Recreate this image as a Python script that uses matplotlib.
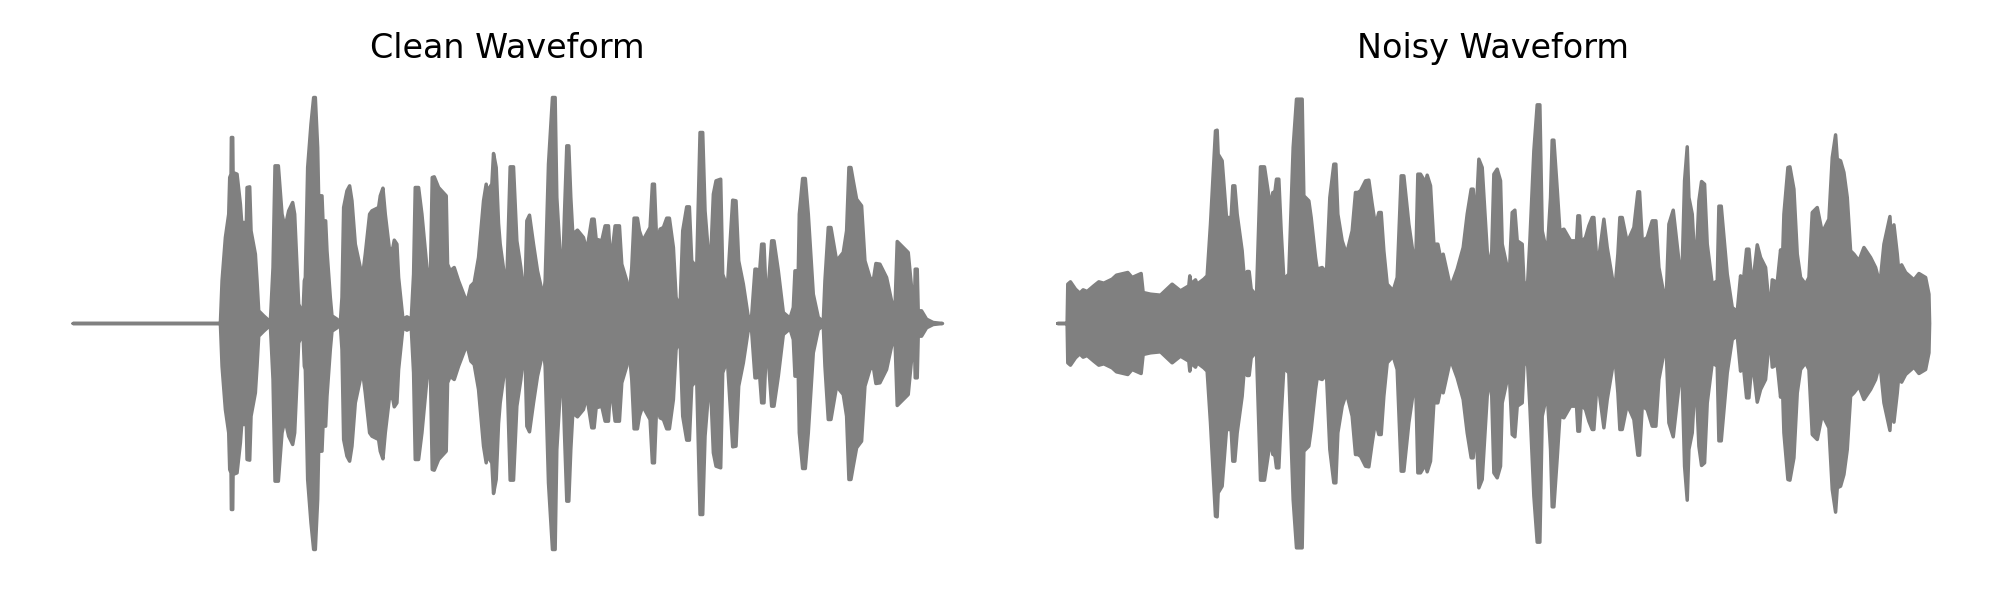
import matplotlib
matplotlib.use("Agg")
import matplotlib.pyplot as plt

# Peak envelope of each recording.
# time is in frames, amplitude in the same arbitrary counts for both panels.
clean_time = [
    68, 510, 515, 525, 535, 538, 542, 543, 547, 548, 560, 570, 574, 588, 590, 598, 602, 615, 620, 625, 640,
    660, 668, 674, 684, 695, 704, 715, 727, 733, 745, 758, 762, 765, 772, 782, 790, 795, 802, 806, 808,
    815, 818, 826, 830, 840, 845, 860, 870, 875, 880, 890, 898, 905, 915, 930, 935, 945, 958, 965, 985,
    990, 998, 1005, 1018, 1028, 1032, 1040, 1045, 1058, 1070, 1083, 1090, 1095, 1105, 1115, 1130, 1140, 1146, 1152, 1165,
    1188, 1192, 1200, 1212, 1225, 1250, 1262, 1272, 1285, 1300, 1308, 1315, 1318, 1325, 1330, 1338, 1345,
    1350, 1365, 1370, 1380, 1390, 1400, 1412, 1418, 1425, 1430, 1438, 1450, 1462, 1480, 1485, 1495, 1507, 1515, 1520,
    1530, 1538, 1543, 1550, 1556, 1562, 1568, 1582, 1600, 1610, 1625, 1632, 1638, 1655, 1665, 1675, 1682, 1695, 1708, 1715,
    1730, 1736, 1745, 1752, 1762, 1768, 1778, 1800, 1807, 1813, 1820, 1830, 1840, 1850, 1858, 1870, 1878, 1890, 1898, 1910,
    1918, 1925, 1940, 1950, 1958, 1965, 1980, 1990, 1998, 2012, 2018, 2032, 2048, 2058, 2066, 2080, 2095, 2105, 2115, 2120,
    2125, 2135, 2142, 2147, 2155, 2165, 2172, 2185, 2200, 2220, 2230, 2235, 2240, 2243, 2248, 2258, 2266, 2275, 2290, 2305,
    2320, 2325, 2335, 2343, 2360, 2380, 2390, 2397, 2403, 2410, 2420, 2435, 2445, 2460, 2470, 2478, 2490, 2510, 2525, 2535,
    2542, 2550, 2575, 2585, 2593, 2596, 2602, 2605, 2615, 2630, 2650, 2678,
]
clean_amp = [
    0, 0, 128, 258, 328, 438, 448, 558, 558, 453, 448, 358, 303, 303, 408, 410, 278, 208, 128, 38, 23,
    5, 168, 473, 473, 328, 288, 338, 363, 328, 58, 28, 128, 138, 468, 598, 678, 678, 528, 328, 383,
    383, 308, 308, 218, 78, 23, 13, 3, 78, 348, 398, 413, 368, 238, 168, 128, 208, 328, 338, 348,
    383, 406, 328, 218, 228, 250, 238, 138, 13, 20, 13, 148, 408, 408, 328, 168, 118, 438, 440, 408,
    383, 178, 158, 168, 128, 63, 113, 123, 198, 368, 418, 278, 408, 418, 510, 468, 300,
    238, 128, 128, 470, 470, 248, 168, 113, 113, 308, 325, 238, 158, 78, 128, 478, 678, 678, 378,
    208, 168, 328, 533, 533, 378, 268, 280, 258, 218, 313, 313, 253, 248, 293, 293, 178, 293, 293, 178,
    128, 68, 168, 316, 316, 278, 248, 288, 418, 418, 238, 283, 288, 316, 316, 228, 78, 48, 278, 350,
    350, 188, 168, 573, 573, 338, 148, 388, 428, 433, 148, 108, 370, 368, 188, 118, 18, 23, 163, 163,
    103, 238, 238, 118, 108, 248, 248, 158, 33, 16, 48, 158, 158, 48, 328, 435, 435, 328, 88, 18,
    6, 128, 288, 288, 188, 213, 278, 468, 468, 428, 373, 353, 188, 138, 128, 180, 178, 138, 68, 38,
    246, 238, 213, 108, 28, 163, 163, 38, 38, 13, 3, 0,
]

noisy_time = [
    52, 80, 82, 90, 105, 118, 128, 140, 160, 175, 190, 215, 228, 262, 275, 302, 308, 330, 360, 395,
    420, 445, 448, 452, 465, 470, 490, 500, 510, 525, 530, 533, 545, 558, 572, 577, 583, 590, 605, 612,
    620, 626, 632, 648, 655, 660, 672, 690, 697, 703, 708, 715, 722, 730, 745, 758, 768, 785, 790, 805,
    812, 825, 830, 845, 858, 868, 880, 886, 892, 905, 918, 935, 945, 952, 960, 975, 985, 995, 1005, 1015,
    1022, 1030, 1040, 1058, 1070, 1082, 1090, 1105, 1118, 1125, 1132, 1140, 1155, 1160, 1170, 1180, 1192, 1200, 1208, 1230,
    1250, 1268, 1280, 1292, 1298, 1305, 1315, 1325, 1340, 1352, 1360, 1370, 1380,
    1385, 1398, 1405, 1410, 1415, 1423, 1430, 1445, 1450, 1460, 1468, 1480, 1490, 1498, 1505, 1520, 1530, 1535, 1540, 1550,
    1558, 1570, 1590, 1608, 1612, 1617, 1622, 1635, 1645, 1655, 1660, 1668, 1675, 1690, 1700, 1715, 1722, 1732, 1738, 1745,
    1760, 1780, 1792, 1797, 1805, 1820, 1835, 1846, 1855, 1870, 1877, 1885, 1898, 1905, 1915, 1925, 1932, 1940, 1945, 1955,
    1965, 1975, 1983, 1992, 2000, 2015, 2030, 2035, 2042, 2060, 2075, 2090, 2100, 2106, 2118, 2125, 2135, 2150, 2160, 2175,
    2188, 2195, 2210, 2220, 2225, 2230, 2242, 2248, 2260, 2270, 2280, 2295, 2305, 2315, 2330, 2345, 2365, 2375, 2385, 2390,
    2400, 2410, 2420, 2430, 2440, 2455, 2470, 2490, 2505, 2518, 2530, 2548, 2552, 2560, 2570, 2577, 2583, 2595, 2620, 2635,
    2655, 2665, 2667,
]
noisy_amp = [
    0, 0, 118, 125, 103, 91, 101, 96, 113, 125, 121, 133, 145, 153, 138, 150, 93, 88, 85, 118,
    98, 113, 143, 118, 131, 118, 133, 143, 298, 578, 580, 508, 488, 318, 318, 413, 413, 328, 218, 128,
    156, 156, 103, 83, 308, 470, 470, 348, 393, 393, 433, 433, 278, 133, 148, 528, 673, 673, 383, 368,
    318, 198, 163, 168, 153, 378, 478, 478, 328, 248, 208, 278, 393, 393, 398, 428, 430, 358, 293, 333,
    333, 218, 118, 98, 138, 443, 443, 298, 208, 153, 448, 448, 423, 445, 413, 238, 238, 198, 208, 108,
    163, 228, 328, 403, 403, 288, 493, 468, 218, 158, 448, 463, 428,
    238, 178, 118, 228, 333, 340, 248, 238, 128, 98, 248, 518, 656, 656, 278, 208, 378, 550, 550, 403,
    278, 283, 248, 248, 323, 323, 243, 258, 293, 318, 318, 198, 198, 313, 228, 138, 88, 208, 318, 318,
    243, 288, 395, 395, 248, 258, 308, 308, 168, 88, 78, 298, 340, 278, 188, 173, 428, 530, 378, 328,
    143, 368, 426, 418, 238, 118, 128, 352, 352, 148, 48, 36, 143, 103, 223, 223, 108, 236, 198, 168,
    28, 131, 123, 221, 168, 328, 468, 470, 403, 208, 138, 118, 138, 333, 348, 273, 313, 498, 566, 493,
    488, 453, 378, 218, 208, 188, 228, 198, 168, 118, 238, 321, 248, 296, 208, 128, 176, 153, 131, 150,
    138, 88, 0,
]

titles = ["Clean Waveform", "Noisy Waveform"]


def plot_waveform(ax, time, amp, title):
    low = [-a for a in amp]
    ax.fill_between(time, low, amp, facecolor="gray", edgecolor="gray", linewidth=2.5, joinstyle="round", capstyle="round")
    ax.set_ylim(-744, 744)
    ax.set_title(title, fontsize=24, pad=12)
    ax.axis("off")


fig = plt.figure(figsize=(20, 6), dpi=100)
ax1 = fig.add_axes([29.2 / 2000, 29 / 600, 956.3 / 2000, 496 / 600])
ax2 = fig.add_axes([1013.7 / 2000, 29 / 600, 959 / 2000, 496 / 600])

plot_waveform(ax1, clean_time, clean_amp, titles[0])
plot_waveform(ax2, noisy_time, noisy_amp, titles[1])

fig.savefig("out.png", dpi=100)
